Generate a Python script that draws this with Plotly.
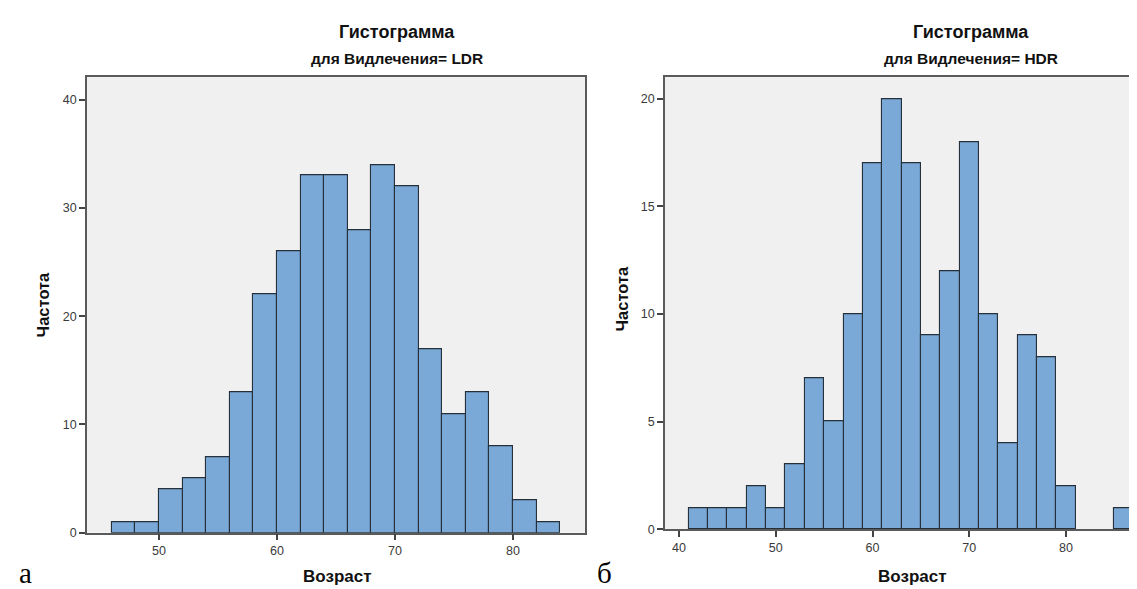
import plotly.graph_objects as go

# ---- data ----
ldr_bin_starts = [46, 48, 50, 52, 54, 56, 58, 60, 62, 64, 66, 68, 70, 72, 74, 76, 78, 80, 82]
ldr_counts     = [1, 1, 4, 5, 7, 13, 22, 26, 33, 33, 28, 34, 32, 17, 11, 13, 8, 3, 1]

hdr_bin_starts = [41, 43, 45, 47, 49, 51, 53, 55, 57, 59, 61, 63, 65, 67, 69, 71, 73, 75, 77, 79, 81, 83, 85]
hdr_counts     = [1, 1, 1, 2, 1, 3, 7, 5, 10, 17, 20, 17, 9, 12, 18, 10, 4, 9, 8, 2, 0, 0, 1]

bin_width = 2

ldr_xticks = [50, 60, 70, 80]
ldr_yticks = [0, 10, 20, 30, 40]
hdr_xticks = [40, 50, 60, 70, 80]
hdr_yticks = [0, 5, 10, 15, 20]

title_text = "Гистограмма"
ldr_subtitle = "для Видлечения= LDR"
hdr_subtitle = "для Видлечения= HDR"
x_title = "Возраст"
y_title = "Частота"
panel_labels = ["а", "б"]

# ---- styling ----
W, H = 1137, 589
FONT = "Liberation Sans"
BAR_FILL = "#7AA8D7"
BAR_LINE = "#25303b"
BG = "#F0F0F0"
FRAME = "#5a5a5a"


def px(x):
    return x / W


def py(y):
    return 1 - y / H


def bars(starts, counts, xa, ya):
    xs = [s + bin_width / 2 for s, c in zip(starts, counts) if c > 0]
    ys = [c for c in counts if c > 0]
    return go.Bar(
        x=xs, y=ys, width=bin_width, xaxis=xa, yaxis=ya,
        marker=dict(color=BAR_FILL, line=dict(color=BAR_LINE, width=1.1)),
        showlegend=False, hoverinfo="x+y",
    )


fig = go.Figure()
fig.add_trace(bars(ldr_bin_starts, ldr_counts, "x", "y"))
fig.add_trace(bars(hdr_bin_starts, hdr_counts, "x2", "y2"))

tickfont = dict(family=FONT, size=12.5, color="#3a3a3a")
common_x = dict(showgrid=False, zeroline=False, showline=True, linecolor=FRAME, linewidth=1.5,
                ticks="outside", ticklen=6, tickwidth=1.5, tickcolor="#444444", tickfont=tickfont,
                mirror=True)
common_y = dict(showgrid=False, zeroline=False, showline=True, linecolor=FRAME, linewidth=1.5,
                ticks="outside", ticklen=6, tickwidth=1.5, tickcolor="#444444", tickfont=tickfont)

L_X0, L_X1, L_YT, L_YB = 79, 577, 70, 531
R_X0, R_YT, R_YB = 657, 70, 527.5

fig.update_layout(
    width=W, height=H,
    margin=dict(l=0, r=0, t=0, b=0),
    paper_bgcolor="white",
    plot_bgcolor=BG,
    bargap=0,
    xaxis=dict(common_x, domain=[px(L_X0), px(L_X1)], range=[43.9, 86.1],
               tickvals=ldr_xticks, anchor="y"),
    yaxis=dict(common_y, domain=[py(L_YB), py(L_YT)], range=[0, 42.1],
               tickvals=ldr_yticks, anchor="x", mirror=True),
    xaxis2=dict(common_x, domain=[px(R_X0), 1.0], range=[38.55, 88.16],
                tickvals=hdr_xticks, anchor="y2"),
    yaxis2=dict(common_y, domain=[py(R_YB), py(R_YT)], range=[0, 21.0],
                tickvals=hdr_yticks, anchor="x2", mirror=False),
)

ann = []
# titles are centred on the whole chart (not the frame), axis titles on the frame
for tcx, sub in [(389, ldr_subtitle), (963, hdr_subtitle)]:
    ann.append(dict(text=title_text, x=px(tcx), y=py(24), xref="paper", yref="paper",
                    showarrow=False, xanchor="center", yanchor="middle",
                    font=dict(family=FONT, size=18, color="#111111", weight="bold")))
    ann.append(dict(text=sub, x=px(tcx), y=py(51), xref="paper", yref="paper",
                    showarrow=False, xanchor="center", yanchor="middle",
                    font=dict(family=FONT, size=15.5, color="#111111", weight="bold")))

for acx in [329, 904]:
    ann.append(dict(text=x_title, x=px(acx), y=py(575), xref="paper", yref="paper",
                    showarrow=False, xanchor="center", yanchor="middle",
                    font=dict(family=FONT, size=17, color="#111111", weight="bold")))

for cx, cy in [(35, 300), (614, 294)]:
    ann.append(dict(text=y_title, x=px(cx), y=py(cy), xref="paper", yref="paper",
                    showarrow=False, xanchor="center", yanchor="middle", textangle=-90,
                    font=dict(family=FONT, size=16.5, color="#111111", weight="bold")))

for cx, lab in [(17, panel_labels[0]), (596, panel_labels[1])]:
    ann.append(dict(text=lab, x=px(cx), y=py(572), xref="paper", yref="paper",
                    showarrow=False, xanchor="center", yanchor="middle",
                    font=dict(family="Liberation Serif", size=29, color="#000000")))

fig.update_layout(annotations=ann)

fig.write_html("out.html")
